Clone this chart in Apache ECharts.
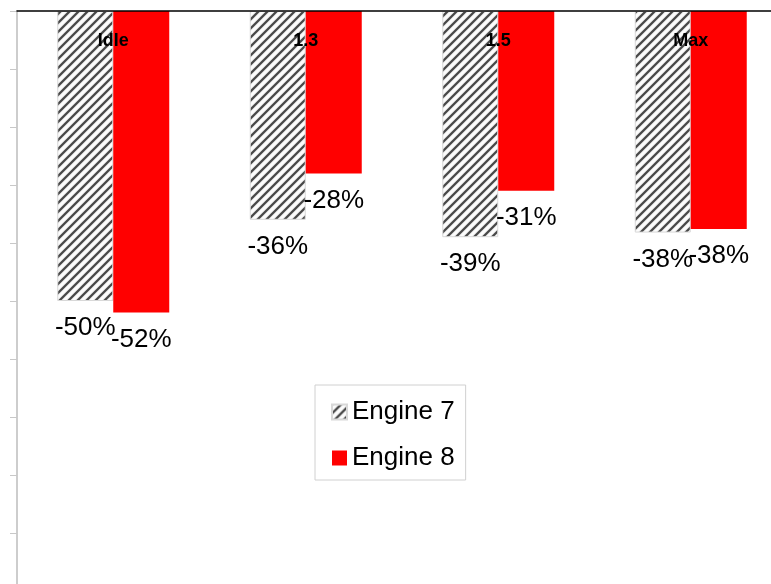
<!DOCTYPE html>
<html>
<head>
<meta charset="utf-8">
<script src="https://cdn.jsdelivr.net/npm/echarts@6/dist/echarts.min.js"></script>
<style>
  html, body { margin: 0; padding: 0; background: #fff; }
  #chart { width: 771px; height: 584px; }
</style>
</head>
<body>
<div id="chart"></div>
<script>
// data
const categories = ['Idle', '1.3', '1.5', 'Max'];
const engine7 = [-50, -36, -39, -38.2];
const engine8 = [-52, -28, -31, -37.6];
const seriesNames = ['Engine 7', 'Engine 8'];

// diagonal hatch for Engine 7
function makeHatch() {
  const s = 9;
  const c = document.createElement('canvas');
  c.width = s; c.height = s;
  const ctx = c.getContext('2d');
  ctx.fillStyle = '#fff';
  ctx.fillRect(0, 0, s, s);
  ctx.strokeStyle = '#474747';
  ctx.lineWidth = 2.1;
  ctx.shadowColor = 'rgba(80,80,80,0.5)';
  ctx.shadowBlur = 1.5;
  ctx.beginPath();
  ctx.moveTo(-2, s + 2); ctx.lineTo(s + 2, -2);
  ctx.moveTo(-2, 2); ctx.lineTo(2, -2);
  ctx.moveTo(s - 2, s + 2); ctx.lineTo(s + 2, s - 2);
  ctx.stroke();
  return c;
}

const font = 'Liberation Sans, Arial, sans-serif';

const labelStyle = {
  show: true,
  position: 'bottom',
  distance: 14,
  fontFamily: font,
  fontSize: 26,
  color: '#000',
  formatter: p => Math.round(p.value) + '%'
};

const chart = echarts.init(document.getElementById('chart'));
chart.setOption({
  animation: false,
  backgroundColor: '#fff',
  textStyle: { fontFamily: font },
  grid: { left: 17, top: 11, width: 770, height: 580, outerBoundsMode: 'none', containLabel: false },
  legend: {
    orient: 'vertical',
    left: 315,
    top: 385,
    itemWidth: 15,
    itemHeight: 15,
    itemGap: 20,
    padding: [14, 11, 9, 16],
    borderColor: '#d0d0d0',
    borderWidth: 1,
    icon: 'rect',
    textStyle: { fontSize: 26, color: '#000', fontFamily: font },
    data: seriesNames
  },
  xAxis: {
    type: 'category',
    position: 'top',
    data: categories,
    z: 10,
    axisLine: { show: true, lineStyle: { color: '#000', width: 1.5 } },
    axisTick: { show: false },
    axisLabel: {
      inside: true,
      margin: 21,
      fontSize: 18,
      fontWeight: 'bold',
      fontFamily: font,
      color: '#000'
    }
  },
  yAxis: {
    type: 'value',
    min: -100,
    max: 0,
    interval: 10,
    axisLine: { show: true, lineStyle: { color: '#bdbdbd', width: 1.5 } },
    axisTick: { show: true, inside: false, length: 7, lineStyle: { color: '#c8c8c8' } },
    axisLabel: { show: false },
    splitLine: { show: false }
  },
  series: [
    {
      name: seriesNames[0],
      type: 'bar',
      data: engine7,
      barWidth: 56,
      barGap: '0%',
      itemStyle: {
        color: { image: makeHatch(), repeat: 'repeat' },
        borderColor: '#d8d8d8',
        borderWidth: 1
      },
      label: labelStyle,
      z: 1
    },
    {
      name: seriesNames[1],
      type: 'bar',
      data: engine8,
      barWidth: 56,
      barGap: '0%',
      itemStyle: { color: '#ff0000' },
      label: labelStyle,
      z: 1
    }
  ]
});
</script>
</body>
</html>
